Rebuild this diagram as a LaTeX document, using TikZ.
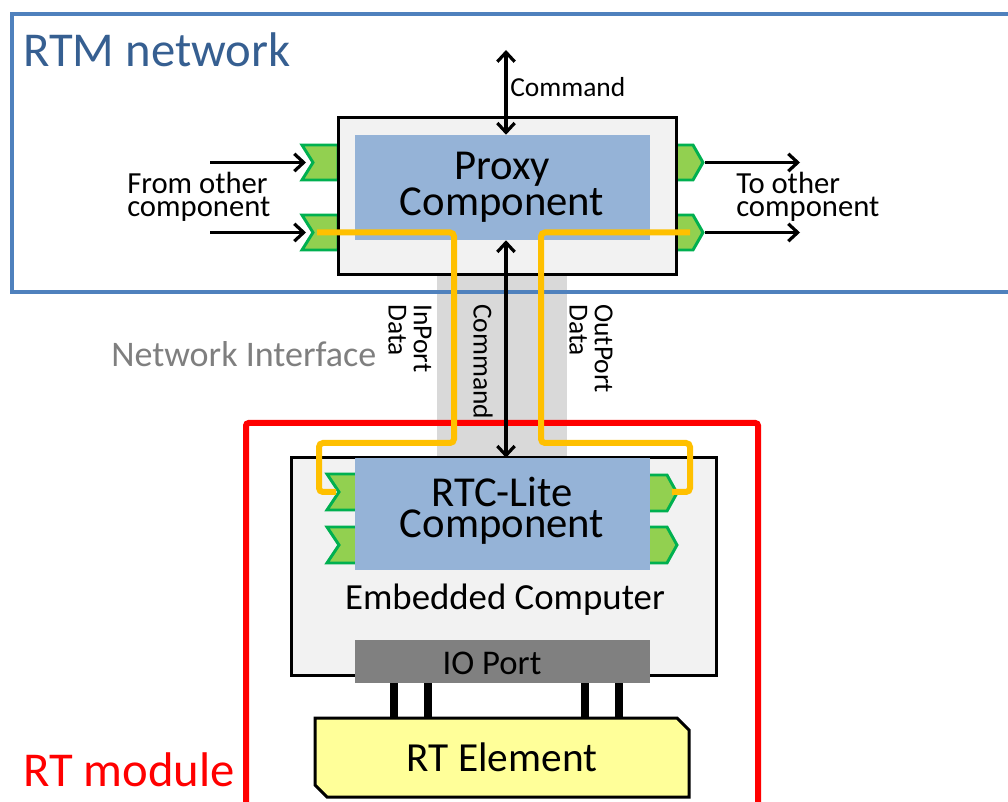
\documentclass[tikz,border=0pt]{standalone}
\usepackage{fontspec}
\setmainfont{Carlito}
\usetikzlibrary{arrows.meta,fit}

\definecolor{rtmblue}{RGB}{79,129,189}
\definecolor{rtmtext}{RGB}{54,95,145}
\definecolor{boxgray}{RGB}{242,242,242}
\definecolor{compblue}{RGB}{149,179,215}
\definecolor{portfill}{RGB}{146,208,80}
\definecolor{portline}{RGB}{0,176,80}
\definecolor{flowcol}{RGB}{255,192,0}
\definecolor{bandcol}{RGB}{217,217,217}
\definecolor{nitext}{RGB}{127,127,127}
\definecolor{iocol}{RGB}{128,128,128}
\definecolor{rtelem}{RGB}{255,255,153}

\newcommand\fBig{\fontsize{36.5}{40}\selectfont}
\newcommand\fComp{\fontsize{32}{23.5}\selectfont}
\newcommand\fSide{\fontsize{23}{17.5}\selectfont}
\newcommand\fCmd{\fontsize{20.6}{19}\selectfont}
\newcommand\fNI{\fontsize{27}{30}\selectfont}
\newcommand\fEmb{\fontsize{27.6}{30}\selectfont}
\newcommand\fIO{\fontsize{26}{30}\selectfont}
\newcommand\fRTE{\fontsize{31}{34}\selectfont}

\begin{document}
\begin{tikzpicture}[x=0.75pt,y=-0.75pt,
  box/.style={draw=black,line width=2.25pt,fill=boxgray,inner sep=0pt},
  comp/.style={fill=compblue,inner sep=0pt},
  port/.style={draw=portline,fill=portfill,line width=2.2pt,line join=miter},
  flowline/.style={draw=flowcol,line width=4.5pt,rounded corners=3pt},
  sig/.style={draw=black,line width=2.4pt,-{Straight Barb[length=7pt,width=13pt]}},
  dsig/.style={draw=black,line width=2.4pt,{Straight Barb[length=7pt,width=13pt]}-{Straight Barb[length=7pt,width=13pt]}},
  bus/.style={draw=black,line width=6pt},
  txt/.style={inner sep=0pt},
]
\useasboundingbox (0,0) rectangle (1008,802);
\fill[white] (0,0) rectangle (1008,802);

% network interface band
\node[fill=bandcol,inner sep=0pt,fit={(437,275)(567,458)}] (band) {};

% RTM network frame
\node[draw=rtmblue,line width=3pt,inner sep=0pt,fit={(12,14)(1030,292)}] (rtm) {};

% proxy ports
\path[port] (302,145) -- ++(36,0) -- ++(0,35) -- ++(-36,0) -- ++(11,-17.5) -- cycle;
\path[port] (302,215) -- ++(36,0) -- ++(0,35) -- ++(-36,0) -- ++(11,-17.5) -- cycle;
\path[port] (676,145) -- ++(17,0) -- ++(10,17.5) -- ++(-10,17.5) -- ++(-17,0) -- cycle;
\path[port] (676,215) -- ++(17,0) -- ++(10,17.5) -- ++(-10,17.5) -- ++(-17,0) -- cycle;
\coordinate (pinA) at (306,162.5);
\coordinate (pinB) at (306,232.5);
\coordinate (poutA) at (705,162.5);
\coordinate (poutB) at (705,232.5);

% proxy box
\node[box,fit={(338,118)(676,275)}] (proxy) {};
\node[comp,fit={(355,135)(650,240)}] (proxycomp) {};

% RT module frame
\node[draw=red,line width=4.5pt,inner sep=0pt,rounded corners=2pt,fit={(246,423)(758,820)}] (rtmod) {};

% embedded computer
\node[box,fit={(291,458)(716,675)}] (emb) {};
\path[port] (327,474) -- ++(30,0) -- ++(0,36) -- ++(-30,0) -- ++(12,-18) -- cycle;
\path[port] (327,527) -- ++(30,0) -- ++(0,36) -- ++(-30,0) -- ++(12,-18) -- cycle;
\path[port] (645,475) -- ++(22,0) -- ++(10,18) -- ++(-10,18) -- ++(-22,0) -- cycle;
\path[port] (645,527) -- ++(22,0) -- ++(10,18) -- ++(-10,18) -- ++(-22,0) -- cycle;
\node[comp,fit={(355,458)(650,570)}] (rtc) {};
\node[fill=iocol,inner sep=0pt,fit={(355,640)(650,683)}] (io) {};

% RT element
\draw[fill=rtelem,line width=2.25pt] (315,718) -- (677,718) -- (689,730) -- (689,797) -- (327,797) -- (315,785) -- cycle;
\coordinate (rtel) at (502,757);

% IO lines
\foreach \x in {394,428,585,619}
  \draw[bus] (\x,683) -- (\x,718);

% data flow lines
\coordinate (rinA) at (336,492);
\coordinate (routA) at (672,492);
\draw[flowline] (317,232.5) -- (454,232.5) -- (454,443) -- (319,443) -- (319,492) -- (rinA);
\draw[flowline] (690,232.5) -- (541,232.5) -- (541,443) -- (690,443) -- (690,492) -- (routA);

% signals
\coordinate (srcA) at (210,162.5);
\coordinate (srcB) at (210,232.5);
\coordinate (dstA) at (800,162.5);
\coordinate (dstB) at (800,232.5);
\draw[sig] (srcA) -- (pinA);
\draw[sig] (srcB) -- (pinB);
\draw[sig] (poutA) -- (dstA);
\draw[sig] (poutB) -- (dstB);

\coordinate (cmdtop) at (506,50);
\draw[dsig] (cmdtop) -- (cmdtop |- proxycomp.north);
\draw[dsig] (proxycomp.south -| cmdtop) -- (rtc.north -| cmdtop);

% texts
\node[txt,anchor=base west,text=rtmtext,font=\fBig] (rtmlabel) at (23,67) {RTM network};
\node[txt,anchor=base west,text=red,font=\fBig] (rtmodlabel) at (23,786) {RT module};
\node[txt,anchor=base west,text=nitext,font=\fNI] (nilabel) at (111,367) {Network Interface};
\node[txt,anchor=base west,font=\fCmd] (cmdlabel) at (510,97) {Command};
\node[txt,anchor=west,align=left,font=\fSide] (fromlabel) at (127,197) {From other\\component};
\node[txt,anchor=west,align=left,font=\fSide] (tolabel) at (736,197) {To other\\component};
\node[txt,align=center,font=\fComp] (proxytext) at (502,187) {Proxy\\Component};
\node[txt,align=center,font=\fComp] (rtctext) at (502,511) {RTC-Lite\\Component};
\node[txt,font=\fEmb] (embtext) at (505,600) {Embedded Computer};
\node[txt,font=\fIO] (iotext) at (492,663) {IO Port};
\node[txt,font=\fRTE] (rteltext) at (rtel) {RT Element};
\node[txt,anchor=west,rotate=-90,align=left,font=\fCmd] (inlabel) at (410,304) {InPort\\Data};
\node[txt,anchor=west,rotate=-90,font=\fCmd] (cmdlabel2) at (483,304) {Command};
\node[txt,anchor=west,rotate=-90,align=left,font=\fCmd] (outlabel) at (591,304) {OutPort\\Data};
\end{tikzpicture}
\end{document}
